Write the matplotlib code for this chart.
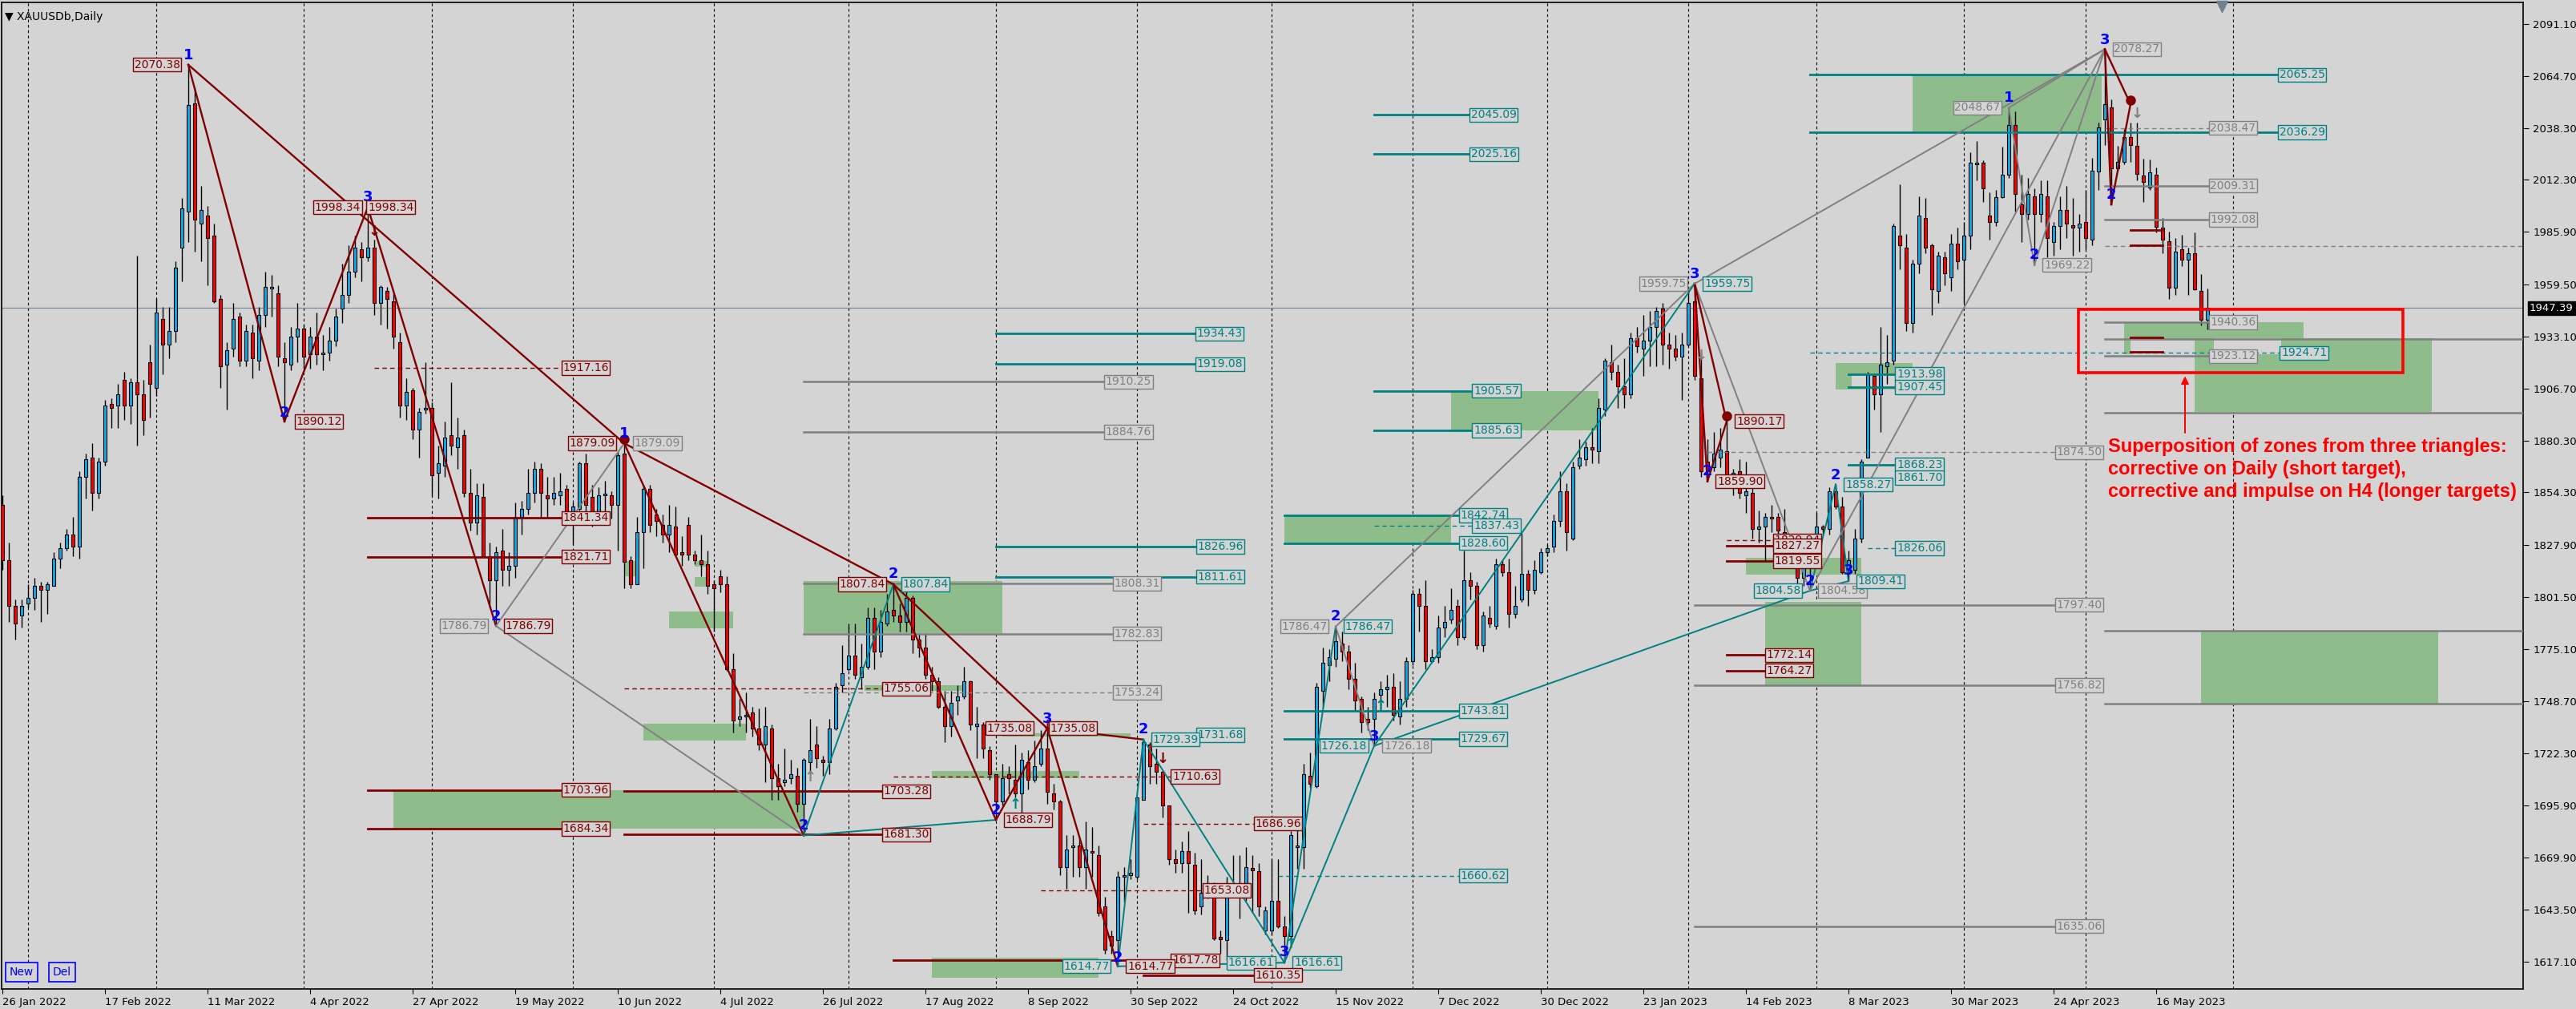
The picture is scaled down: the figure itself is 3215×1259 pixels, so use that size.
import numpy as np
import pandas as pd
import matplotlib
matplotlib.use("Agg")
import matplotlib.pyplot as plt
from matplotlib.patches import Rectangle
import matplotlib.transforms as mtransforms

# ---- bars (daily XAUUSD, 26 Jan 2022 .. 26 May 2023) ----
holidays = ["2022-04-15", "2022-12-26", "2023-04-07"]
dates = pd.bdate_range("2022-01-26", "2023-05-26").drop(pd.to_datetime(holidays))

opens = [
    1848, 1820, 1797, 1792, 1798, 1801, 1807, 1805, 1807, 1821,
    1826, 1833, 1827, 1862, 1872, 1854, 1870, 1899, 1898, 1911,
    1898, 1910, 1904, 1920, 1907, 1942, 1929, 1936, 1978, 1996,
    2051, 1990, 1994, 1984, 1952, 1919, 1927, 1943, 1921, 1935,
    1921, 1944, 1957.5, 1955, 1922, 1919, 1933, 1937, 1924, 1933,
    1924, 1925, 1931, 1947, 1954, 1966, 1977, 1973, 1978, 1950,
    1956, 1951, 1930, 1898, 1906, 1886, 1896, 1897, 1864, 1868,
    1883, 1877, 1883, 1854, 1839, 1852, 1822, 1810, 1825, 1815,
    1817, 1842, 1846, 1854, 1866, 1853, 1851, 1853, 1856, 1841,
    1846, 1869, 1852, 1843, 1853, 1853, 1848, 1874, 1820, 1808,
    1834, 1856, 1843, 1838, 1833, 1837, 1824, 1838, 1823, 1820,
    1818, 1808, 1812, 1808, 1765, 1740, 1741, 1743, 1735, 1727,
    1735, 1710, 1708, 1710, 1711, 1697, 1718, 1727, 1719, 1718,
    1735, 1757, 1765, 1772, 1761, 1766, 1791, 1774, 1788, 1795,
    1792, 1789, 1801, 1780, 1776, 1762, 1759, 1746, 1736, 1749,
    1751, 1759, 1736, 1737, 1724, 1712, 1698, 1712, 1709, 1702,
    1718, 1709, 1717, 1725, 1702, 1698, 1665, 1675, 1676, 1665,
    1673, 1671, 1645, 1630, 1628, 1660, 1661, 1660, 1699, 1727,
    1717, 1713, 1696, 1669, 1667, 1673, 1666, 1645, 1652, 1652,
    1629.7, 1628, 1652, 1655, 1651, 1664.5, 1663, 1633, 1633, 1648,
    1635, 1630, 1675, 1675, 1711, 1706, 1754, 1767, 1770, 1778,
    1774, 1760, 1750, 1740, 1740, 1752, 1755, 1756, 1741, 1750,
    1769, 1803, 1797, 1769, 1771, 1786, 1790, 1797, 1781, 1810,
    1807, 1777, 1791, 1787, 1818, 1814, 1793, 1800, 1813, 1805,
    1814, 1824, 1827, 1840, 1855, 1831, 1868, 1871, 1877, 1875,
    1896, 1920, 1915, 1908, 1904, 1932, 1927, 1931, 1938, 1947,
    1929, 1927, 1923, 1929, 1951, 1912, 1870, 1867, 1872, 1875,
    1861, 1865, 1853, 1854, 1836, 1837, 1842, 1842, 1834, 1826,
    1821, 1811, 1817, 1826, 1837, 1836, 1855, 1847, 1815, 1815,
    1831, 1872, 1913, 1904, 1918, 1921, 1984, 1978, 1940, 1970,
    1993, 1979, 1956, 1973, 1963, 1980, 1972, 1984, 2020, 2021,
    1994, 1991, 2003.5, 2015, 2040, 2000, 1995, 2004, 1995, 2004,
    1981, 1989, 1997, 1989.4, 1988, 1991, 1982, 2016.5, 2042.6, 2049,
    2018, 2021.4, 2034, 2029.5, 2014.3, 2008.4, 2015, 1988, 1981.4, 1957.6,
    1977, 1972, 1975, 1956, 1941.4,
]
highs = [
    1853, 1829, 1800, 1800, 1808, 1811, 1809, 1809, 1824, 1829,
    1836, 1842, 1865, 1874, 1879, 1872, 1901, 1902, 1909, 1915,
    1912, 1974, 1911, 1929, 1952, 1948, 1948, 1971, 2003, 2070.4,
    2059, 2009, 1999, 1990, 1954, 1930, 1950, 1945, 1939, 1939,
    1948, 1966, 1964, 1959, 1930, 1938, 1950, 1939, 1938, 1945,
    1934, 1938, 1947, 1970, 1979, 1984, 1981, 1998.3, 1982, 1959,
    1958, 1955, 1935, 1912, 1907, 1897, 1920, 1900, 1878, 1890,
    1910, 1892, 1886, 1866, 1859, 1859, 1829, 1827, 1836, 1824,
    1849, 1850, 1866, 1870, 1869, 1862, 1862, 1864, 1858, 1849,
    1870, 1874, 1858, 1857, 1860, 1855, 1875, 1879.1, 1822, 1842,
    1858, 1858, 1846, 1843, 1848, 1847, 1832, 1842, 1825, 1833,
    1825, 1810, 1815, 1812, 1773, 1750, 1753, 1746, 1745, 1746,
    1737, 1717, 1725, 1719, 1715, 1720, 1740, 1736, 1721, 1740,
    1758, 1777, 1788, 1788, 1778, 1796, 1796, 1795, 1803, 1807.8,
    1798, 1805, 1802, 1783, 1783, 1766, 1761, 1754, 1754, 1757,
    1766, 1759.4, 1746, 1738, 1726, 1712, 1717, 1716, 1727, 1723,
    1724, 1729, 1734, 1735.1, 1707, 1699, 1681, 1681, 1680, 1688,
    1685, 1676, 1650, 1633, 1663, 1665, 1669, 1700, 1729.4, 1728,
    1725, 1714, 1696, 1674, 1678, 1683, 1672, 1669, 1661, 1657,
    1633, 1660, 1671, 1671, 1675, 1671, 1667, 1645, 1669, 1669,
    1640, 1683, 1689, 1717, 1723, 1758, 1776, 1775, 1786.5, 1784,
    1777, 1768, 1751, 1746, 1753, 1759, 1762, 1763, 1759, 1771,
    1805, 1806, 1810, 1775, 1792, 1797, 1806, 1800, 1825, 1814,
    1809, 1794, 1797, 1821, 1820, 1821, 1807, 1834, 1815, 1820,
    1826, 1828, 1843, 1865, 1859, 1870, 1881, 1880, 1887, 1902,
    1922, 1929, 1919, 1922, 1935, 1938, 1944, 1946, 1948, 1950,
    1935, 1934, 1935, 1958, 1959.75, 1925, 1881, 1885, 1887, 1890.2,
    1866, 1871, 1870, 1857, 1845, 1844, 1848, 1844, 1846, 1832,
    1825, 1826, 1827, 1844, 1838, 1857, 1858.3, 1852, 1825, 1836,
    1871, 1915, 1914, 1938, 1934, 1990, 2010, 1985, 1972, 2004,
    2003, 1980, 1976, 1976, 1985, 1988, 1991, 2026, 2032, 2022,
    2006, 2007, 2029, 2048.7, 2047, 2015, 2013, 2008, 2012, 2012,
    1991, 2004, 2009, 2003, 1995, 2007, 2023.5, 2041, 2078.3, 2053,
    2029.5, 2038, 2041, 2041.3, 2023, 2022.4, 2018.4, 1993, 1986, 1983,
    1984.6, 1978, 1985.7, 1964.7, 1957.3,
]
lows = [
    1815, 1789, 1780, 1786, 1796, 1795, 1789, 1793, 1807, 1816,
    1825, 1822, 1821, 1851, 1845, 1851, 1868, 1887, 1887, 1891,
    1889, 1878, 1883, 1892, 1903, 1914, 1922, 1930, 1961, 1981,
    1976, 1971, 1959, 1950, 1907, 1896, 1923, 1918, 1918, 1912,
    1916, 1938, 1943, 1918, 1890.1, 1916, 1920, 1917, 1917, 1919,
    1916, 1921, 1928, 1940, 1950, 1963, 1961, 1971, 1944, 1939,
    1937, 1927, 1892, 1891, 1881, 1872, 1894, 1853, 1851, 1862,
    1873, 1866, 1852, 1835, 1833, 1822, 1796, 1786.8, 1807, 1807,
    1811, 1833, 1843, 1849, 1842, 1841, 1848, 1848, 1839, 1828,
    1845, 1840, 1837, 1839, 1840, 1841, 1825, 1806, 1806, 1808,
    1816, 1834, 1832, 1829, 1824, 1822, 1817, 1820, 1818, 1812,
    1803, 1784, 1804, 1764, 1733, 1736, 1733, 1731, 1724, 1708,
    1699, 1699, 1706, 1707, 1693, 1680.9, 1712, 1715, 1711, 1712,
    1734, 1753, 1764, 1760, 1755, 1765, 1765, 1771, 1787, 1789,
    1784, 1784, 1773, 1771, 1760, 1754, 1745, 1728, 1731, 1742,
    1750, 1734, 1720, 1720, 1709, 1688.8, 1696, 1702, 1700, 1692,
    1704, 1708, 1716, 1697, 1694, 1661, 1654, 1660, 1660, 1654,
    1660, 1640, 1621, 1621, 1614.8, 1647, 1659, 1659, 1699, 1707,
    1707, 1690, 1666, 1662, 1662, 1642, 1641, 1641, 1649, 1628,
    1621, 1617.8, 1650, 1639, 1648, 1642, 1640, 1631, 1631, 1634,
    1616.6, 1627, 1664, 1664, 1705, 1705, 1746, 1759, 1766, 1769,
    1755, 1744, 1733, 1734, 1726.2, 1744, 1746, 1739, 1737, 1746,
    1767, 1784, 1765, 1768, 1768, 1781, 1788, 1777, 1780, 1800,
    1775, 1774, 1786, 1785, 1812, 1786, 1791, 1799, 1797, 1803,
    1813, 1822, 1824, 1837, 1825, 1830, 1866, 1868, 1869, 1869,
    1893, 1911, 1897, 1897, 1902, 1925, 1913, 1918, 1918, 1919,
    1917, 1921, 1901, 1928, 1911, 1862, 1859.9, 1865, 1867, 1860,
    1853, 1851, 1844, 1831, 1829, 1819, 1834, 1830, 1822, 1818,
    1808, 1807, 1804.6, 1825, 1833, 1833, 1846, 1813, 1809.4, 1813,
    1829, 1872, 1896, 1885, 1909, 1919, 1967, 1936, 1935, 1965,
    1975, 1944, 1950, 1959, 1956, 1967, 1950, 1977, 2012, 2001,
    1982, 1989, 2003, 2013, 1996, 1981, 1992, 1969.2, 1991, 1973,
    1974, 1977, 1983, 1974, 1976, 1977, 1979, 2007, 2030, 2000,
    2017, 2020, 2021.4, 2012, 2001, 2007.3, 1985.7, 1975, 1952, 1954,
    1968.8, 1954, 1956.6, 1938.7, 1936.8,
]
closes = [
    1820, 1797, 1788, 1797, 1801, 1807, 1805, 1808, 1821, 1826,
    1833, 1827, 1862, 1871, 1854, 1870, 1898, 1897, 1904, 1898,
    1910, 1904, 1891, 1909, 1945, 1929, 1936, 1968, 1998, 2050,
    1992, 1997, 1983, 1951, 1918, 1926, 1942, 1921, 1936, 1922,
    1944, 1958, 1958.3, 1923, 1920, 1933, 1937, 1923, 1933, 1924,
    1925, 1931, 1943, 1954, 1966, 1978, 1973, 1978, 1950, 1958,
    1952, 1933, 1898, 1905, 1886, 1895, 1897, 1863, 1869, 1882,
    1878, 1882, 1854, 1839, 1853, 1822, 1810, 1824, 1815, 1817,
    1842, 1846, 1854, 1866, 1854, 1851, 1854, 1855, 1841, 1847,
    1869, 1848, 1843, 1853, 1853.5, 1848, 1873, 1819, 1808, 1834,
    1856, 1838, 1840, 1833, 1838, 1823, 1823, 1823, 1820, 1818,
    1807, 1806, 1808, 1765, 1739, 1741, 1742, 1735, 1727, 1736,
    1710, 1706, 1709, 1712, 1697, 1719, 1724, 1720, 1718, 1735,
    1756, 1763, 1772, 1762, 1766, 1791, 1774, 1789, 1794, 1792,
    1789, 1801, 1780, 1776, 1762, 1759, 1746, 1736, 1748, 1751,
    1759, 1737, 1737.5, 1725, 1712, 1698, 1710, 1710, 1702, 1719,
    1709, 1716, 1725, 1703, 1698, 1665, 1674, 1676, 1665, 1674,
    1672, 1642, 1623, 1625, 1660, 1661, 1662, 1700, 1728, 1716,
    1713, 1696, 1669, 1667, 1673, 1667, 1643, 1652, 1652.5, 1629,
    1628.5, 1655, 1656, 1651, 1665, 1663.4, 1645, 1643, 1648, 1635,
    1630, 1681, 1676, 1712, 1707, 1756, 1768, 1771, 1779, 1774,
    1760, 1749, 1738, 1738, 1750, 1755, 1756, 1742, 1750, 1769,
    1803, 1797, 1769, 1771, 1786, 1789, 1795, 1781, 1810, 1807,
    1777, 1792, 1788, 1818, 1814, 1793, 1797, 1813, 1805, 1815,
    1824, 1826, 1840, 1855, 1834, 1867, 1872, 1877, 1876, 1897,
    1921, 1915, 1908, 1904, 1932, 1928, 1931, 1938, 1946, 1929,
    1927, 1923, 1929, 1950, 1913, 1865, 1865, 1874, 1876, 1863,
    1864, 1854, 1855, 1836, 1837, 1842, 1841, 1835, 1824, 1822,
    1811, 1818, 1826, 1837, 1836, 1855, 1847, 1814, 1820, 1831,
    1870, 1914, 1904, 1919, 1920, 1989, 1979, 1940, 1970, 1994,
    1978, 1957, 1974, 1965, 1980, 1971, 1984, 2021, 2021, 2008,
    1991, 2003.5, 2015, 2040, 2005, 1995, 2005, 1995, 2005, 1983,
    1989, 1997, 1990, 1988, 1990, 1983, 2017, 2038.6, 2050.5, 2018,
    2021.4, 2034, 2030, 2015.4, 2011.3, 2016, 1988.6, 1982, 1957.6, 1976,
    1972, 1975, 1957, 1941.4, 1947.39,
]

price_ticks = [2091.10, 2064.70, 2038.30, 2012.30, 1985.90, 1959.50, 1933.10,
               1906.70, 1880.30, 1854.30, 1827.90, 1801.50, 1775.10, 1748.70,
               1722.30, 1695.90, 1669.90, 1643.50, 1617.10]
last_price = 1947.39

DR, TL, GR = "#800000", "#008080", "#808080"

# green target zones: bar from, bar to, low, high
zones = [
    (61, 125, 1684.34, 1703.96), (104, 114, 1785.5, 1794.0), (100, 116, 1728.9, 1737.4),
    (125, 156, 1783.0, 1809.5), (145, 168, 1709.9, 1713.3), (156, 176, 1730.8, 1732.6),
    (134.5, 150, 1753.8, 1756.9), (145, 171, 1609.0, 1619.0), (97, 98.8, 1812.0, 1819.8),
    (108, 110, 1816.8, 1819.8), (108, 110.3, 1806.7, 1811.5),
    (200, 226, 1828.60, 1842.74), (226, 249, 1885.63, 1905.57), (298, 327.5, 2036.29, 2065.25),
    (286, 298, 1906.3, 1919.8), (272, 290, 1812.9, 1821.3), (275, 290, 1757.0, 1799.0),
    (331, 359, 1924.0, 1940.1), (342, 379, 1894.9, 1932.3), (343, 380, 1747.4, 1784.3),
]
blanks = [(288.5, 295.5, 1907.45, 1913.98), (332, 342, 1923.7, 1931.7), (345, 355.5, 1924.0, 1932.0)]

# triangle sides: bar, price -> bar, price, colour
sides = [
    (29, 2070.38, 97, 1879.09, DR), (29, 2070.38, 44, 1890.12, DR), (44, 1890.12, 57, 1998.34, DR),
    (57, 1998.34, 77, 1786.79, DR), (77, 1786.79, 97, 1879.09, GR), (77, 1786.79, 125, 1680.90, GR),
    (97, 1879.09, 125, 1680.90, DR), (97, 1879.09, 139, 1807.84, DR), (125, 1680.90, 139, 1807.84, TL),
    (125, 1680.90, 155, 1688.79, TL), (139, 1807.84, 155, 1688.79, DR), (139, 1807.84, 163, 1735.08, DR),
    (155, 1688.79, 163, 1735.08, DR), (163, 1735.08, 174, 1614.77, DR), (163, 1735.08, 178, 1729.39, DR),
    (174, 1614.77, 178, 1729.39, TL), (178, 1729.39, 200, 1616.61, TL), (174, 1614.77, 200, 1616.61, TL),
    (200, 1616.61, 208, 1786.47, TL), (200, 1616.61, 214, 1726.18, TL), (208, 1786.47, 214, 1726.18, GR),
    (208, 1786.47, 264, 1959.75, GR), (214, 1726.18, 264, 1959.75, TL), (214, 1726.18, 282, 1804.58, TL),
    (264, 1959.75, 282, 1804.58, GR), (264, 1959.75, 266, 1859.90, DR), (264, 1959.75, 269, 1890.17, DR),
    (266, 1859.90, 269, 1890.17, DR), (282, 1804.58, 286, 1858.27, TL), (286, 1858.27, 288, 1809.41, TL),
    (282, 1804.58, 288, 1809.41, TL), (264, 1959.75, 328, 2078.27, GR), (282, 1804.58, 328, 2078.27, GR),
    (313, 2048.67, 317, 1969.22, GR), (317, 1969.22, 328, 2078.27, GR), (313, 2048.67, 328, 2078.27, GR),
    (328, 2078.27, 329, 1999.80, DR), (329, 1999.80, 332, 2050.50, DR), (328, 2078.27, 332, 2050.50, DR),
]

# wave numbers: bar, price, digit
waves = [
    (29, 2075.2, "1"), (44, 1894.5, "2"), (57, 2003.3, "3"), (77, 1791.8, "2"), (97, 1884.0, "1"),
    (125, 1686.0, "2"), (139, 1813.0, "2"), (155, 1693.8, "2"), (163, 1739.8, "3"), (174, 1619.2, "2"),
    (178, 1734.5, "2"), (200, 1622.0, "3"), (208, 1791.5, "2"), (214, 1730.9, "3"), (264, 1964.5, "3"),
    (266, 1864.9, "2"), (282, 1809.6, "2"), (286, 1863.0, "2"), (288, 1814.8, "3"), (313, 2053.7, "1"),
    (317, 1974.3, "2"), (328, 2082.9, "3"), (329, 2004.6, "2"),
]
markers = [(97, 1881.0), (269, 1893.0), (332, 2052.5)]
arrows = [
    (58, 1986.0, "↓", DR), (142, 1806.8, "↓", DR), (163, 1736.0, "↓", DR), (181, 1719.6, "↓", DR),
    (158, 1696.6, "↑", TL), (201, 1626.2, "↑", TL), (215, 1746.3, "↑", TL), (283, 1820.3, "↑", TL),
    (265, 1923.5, "↓", GR), (333, 2045.7, "↓", GR), (126, 1710.3, "↑", GR),
]

# price levels: price, bar from, bar to, colour, dashed
levels = [
    (1917.16, 58, 87.4, DR, 1), (1841.34, 57, 87.4, DR, 0), (1821.71, 57, 87.4, DR, 0),
    (1703.96, 57, 87.4, DR, 0), (1684.34, 57, 87.4, DR, 0), (1703.28, 97, 137.4, DR, 0),
    (1681.30, 97, 137.4, DR, 0), (1755.06, 97, 137.4, DR, 1), (1910.25, 125, 172.1, GR, 0),
    (1884.76, 125, 172.1, GR, 0), (1808.31, 125, 173.4, GR, 0), (1782.83, 125, 173.4, GR, 0),
    (1753.24, 125, 173.4, GR, 1), (1934.43, 155, 186.3, TL, 0), (1919.08, 155, 186.3, TL, 0),
    (1826.96, 155, 186.3, TL, 0), (1811.61, 155, 186.3, TL, 0), (1710.63, 139, 182.5, DR, 1),
    (1653.08, 162, 187.4, DR, 1), (1686.96, 178, 195.4, DR, 1), (1617.78, 139, 182.5, DR, 0),
    (1610.35, 178, 195.4, DR, 0), (1743.81, 200, 227.4, TL, 0), (1729.67, 200, 227.4, TL, 0),
    (1660.62, 199, 227.4, TL, 1), (1842.74, 200, 227.4, TL, 0), (1828.60, 200, 227.4, TL, 0),
    (1837.43, 214, 229.5, TL, 1), (1905.57, 214, 229.5, TL, 0), (1885.63, 214, 229.5, TL, 0),
    (2045.09, 214, 229.1, TL, 0), (2025.16, 214, 229.1, TL, 0), (1829.94, 269, 276.4, DR, 1),
    (1827.27, 269, 276.4, DR, 0), (1819.55, 269, 276.4, DR, 0), (1913.98, 288, 295.5, TL, 0),
    (1907.45, 288, 295.5, TL, 0), (1868.23, 288, 295.5, TL, 0), (1826.06, 291, 295.5, TL, 1),
    (1772.14, 269, 275.2, DR, 0), (1764.27, 269, 275.2, DR, 0), (1874.50, 266, 320.4, GR, 1),
    (1797.40, 264, 320.4, GR, 0), (1756.82, 264, 320.4, GR, 0), (1635.06, 264, 320.4, GR, 0),
    (2065.25, 282, 355.2, TL, 0), (2036.29, 282, 355.2, TL, 0), (1924.71, 282, 355.5, TL, 1),
    (2038.47, 328, 344.4, GR, 1), (2009.31, 328, 344.4, GR, 0), (1992.08, 328, 344.4, GR, 0),
    (1940.36, 328, 344.4, GR, 0), (1923.12, 328, 344.4, GR, 0), (1931.80, 328, 394, GR, 0),
    (1894.50, 328, 394, GR, 0), (1784.30, 328, 394, GR, 0), (1747.50, 328, 394, GR, 0),
    (1978.80, 328, 394, GR, 1), (1987.00, 332, 337, DR, 0), (1979.30, 332, 337, DR, 0),
    (1932.70, 332, 337, DR, 0), (1925.20, 332, 337, DR, 0),
]

# price tags: bar, price, colour, side of the anchor
tags = [
    (27.7, 2070.38, DR, "right"), (55.9, 1998.34, DR, "right"), (57.0, 1998.34, DR, "left"),
    (45.8, 1890.12, DR, "left"), (87.4, 1917.16, DR, "left"), (95.6, 1879.09, DR, "right"),
    (98.6, 1879.09, GR, "left"), (87.4, 1841.34, DR, "left"), (87.4, 1821.71, DR, "left"),
    (75.6, 1786.79, GR, "right"), (78.4, 1786.79, DR, "left"), (87.4, 1703.96, DR, "left"),
    (87.4, 1684.34, DR, "left"), (137.7, 1807.84, DR, "right"), (140.4, 1807.84, TL, "left"),
    (137.4, 1755.06, DR, "left"), (137.4, 1703.28, DR, "left"), (137.4, 1681.30, DR, "left"),
    (156.4, 1688.79, DR, "left"), (160.7, 1735.08, DR, "right"), (163.4, 1735.08, DR, "left"),
    (173.4, 1808.31, GR, "left"), (173.4, 1782.83, GR, "left"), (173.4, 1753.24, GR, "left"),
    (172.1, 1910.25, GR, "left"), (172.1, 1884.76, GR, "left"), (186.3, 1934.43, TL, "left"),
    (186.3, 1919.08, TL, "left"), (186.4, 1826.96, TL, "left"), (186.4, 1811.61, TL, "left"),
    (186.4, 1731.68, TL, "left"), (179.4, 1729.39, TL, "left"), (182.5, 1710.63, DR, "left"),
    (195.4, 1686.96, DR, "left"), (187.4, 1653.08, DR, "left"), (182.5, 1617.78, DR, "left"),
    (172.7, 1614.77, TL, "right"), (175.5, 1614.77, DR, "left"), (191.2, 1616.61, TL, "left"),
    (201.5, 1616.61, TL, "left"), (195.4, 1610.35, DR, "left"), (206.7, 1786.47, GR, "right"),
    (209.4, 1786.47, TL, "left"), (212.9, 1726.18, TL, "right"), (215.5, 1726.18, GR, "left"),
    (227.4, 1743.81, TL, "left"), (227.4, 1729.67, TL, "left"), (227.4, 1660.62, TL, "left"),
    (227.4, 1842.74, TL, "left"), (227.4, 1828.60, TL, "left"), (229.5, 1837.43, TL, "left"),
    (229.5, 1905.57, TL, "left"), (229.5, 1885.63, TL, "left"), (229.1, 2045.09, TL, "left"),
    (229.1, 2025.16, TL, "left"), (262.7, 1959.75, GR, "right"), (265.5, 1959.75, TL, "left"),
    (270.5, 1890.17, DR, "left"), (267.5, 1859.90, DR, "left"), (276.4, 1829.94, DR, "left"),
    (276.4, 1827.27, DR, "left"), (276.4, 1819.55, DR, "left"), (280.6, 1804.58, TL, "right"),
    (283.5, 1804.58, GR, "left"), (287.5, 1858.27, TL, "left"), (289.4, 1809.41, TL, "left"),
    (295.5, 1913.98, TL, "left"), (295.5, 1907.45, TL, "left"), (295.5, 1868.23, TL, "left"),
    (295.5, 1861.70, TL, "left"), (295.5, 1826.06, TL, "left"), (275.2, 1772.14, DR, "left"),
    (275.2, 1764.27, DR, "left"), (311.7, 2048.67, GR, "right"), (318.5, 1969.22, GR, "left"),
    (329.4, 2078.27, GR, "left"), (355.2, 2065.25, TL, "left"), (355.2, 2036.29, TL, "left"),
    (344.4, 2038.47, GR, "left"), (344.4, 2009.31, GR, "left"), (344.4, 1992.08, GR, "left"),
    (344.4, 1940.36, GR, "left"), (344.4, 1923.12, GR, "left"), (355.5, 1924.71, TL, "left"),
    (320.4, 1874.50, GR, "left"), (320.4, 1797.40, GR, "left"), (320.4, 1756.82, GR, "left"),
    (320.4, 1635.06, GR, "left"),
]

note = ["Superposition of zones from three triangles:",
        "corrective on Daily (short target),",
        "corrective and impulse on H4 (longer targets)"]

# ---- figure ----
BG = "#D4D4D4"
W, H = 3216, 1259
fig = plt.figure(figsize=(W / 100, H / 100), dpi=100, facecolor=BG)
ax = fig.add_axes([2 / W, 25 / H, 3147 / W, 1231 / H], facecolor=BG)
ax.set_xlim(-0.125, 393.25)
ax.set_ylim(1603.33, 2101.9)

O, Hh, Lw, C = map(np.array, (opens, highs, lows, closes))
x = np.arange(len(O))

# month separators (up to the first month after the data)
future = pd.bdate_range("2023-05-29", "2023-06-05")
alld = dates.append(future)
ms = [k for k in range(1, len(alld)) if alld[k].month != alld[k - 1].month]
for k in ms:
    ax.axvline(k, color="black", lw=0.8, ls=(0, (3, 3)), zorder=0.5)

ax.axhline(last_price, color="#778899", lw=0.9, zorder=0.6)

for i0, i1, lo, hi in zones:
    ax.add_patch(Rectangle((i0, lo), i1 - i0, hi - lo, fc="#8FBC8B", ec="none", zorder=1))
for i0, i1, lo, hi in blanks:
    ax.add_patch(Rectangle((i0, lo), i1 - i0, hi - lo, fc=BG, ec="none", zorder=1.1))

# candles
ax.vlines(x, Lw, Hh, color="black", lw=1.0, zorder=3)
up = C >= O
bot = np.minimum(O, C)
hgt = np.maximum(np.abs(C - O), 0.7)
ax.bar(x[up], hgt[up], bottom=bot[up], width=0.62, color="#14AAE8", edgecolor="black", lw=0.8, zorder=4)
ax.bar(x[~up], hgt[~up], bottom=bot[~up], width=0.62, color="#FF0000", edgecolor="black", lw=0.8, zorder=4)

for p, i0, i1, col, dash in levels:
    if dash:
        ax.plot([i0, i1], [p, p], color=col, lw=1.0, ls=(0, (4, 3)), zorder=5)
    else:
        ax.plot([i0, i1], [p, p], color=col, lw=2.0 if col != GR else 1.8, zorder=5)

for i0, p0, i1, p1, col in sides:
    ax.plot([i0, i1], [p0, p1], color=col, lw=1.7 if col == DR else 1.4, zorder=5.5)

for i, p, txt in waves:
    ax.text(i, p, txt, color="#0000FF", fontsize=13, fontweight="bold", ha="center", va="center", zorder=7)
for i, p in markers:
    ax.plot(i, p, "o", ms=8, mfc=DR, mec=DR, zorder=6.5)
for i, p, g, col in arrows:
    ax.text(i, p, g, color=col, fontsize=13, fontweight="bold", ha="center", va="center", zorder=6.8)

for i, p, col, side in tags:
    ax.text(i, p, f"{p:.2f}", color=col, fontsize=10, ha=side, va="center", zorder=8,
            bbox=dict(boxstyle="square,pad=0.12", fc=BG, ec=col, lw=1.0))

# red callout
ax.add_patch(Rectangle((323.9, 1914.7), 50.6, 32.1, fill=False, ec="#FF0000", lw=2.6, zorder=9))
ax.annotate("", xy=(340.5, 1914.2), xytext=(340.5, 1883.3),
            arrowprops=dict(arrowstyle="-|>", color="#FF0000", lw=1.4, mutation_scale=14), zorder=9)
for k, line in enumerate(note):
    ax.text(328.5, 1877.5 - 11.35 * k, line, color="#FF0000", fontsize=17, fontweight="bold",
            family="Liberation Sans", ha="left", va="center", zorder=9)

# axes
for s in ax.spines.values():
    s.set_color("black")
    s.set_linewidth(1.2)
ax.yaxis.tick_right()
ax.set_yticks(price_ticks)
ax.set_yticklabels([f"{v:.2f}" for v in price_ticks], fontsize=9.5)
ax.tick_params(axis="y", direction="out", length=5, pad=4, colors="black")
xt = list(range(0, len(dates), 16))
ax.set_xticks(xt)
ax.set_xticklabels([f"{dates[k].day} {dates[k]:%b %Y}" for k in xt], fontsize=9.5, ha="left")
ax.tick_params(axis="x", direction="out", length=4, pad=3, colors="black")

tr = mtransforms.blended_transform_factory(ax.transAxes, ax.transData)
ax.text(1.0025, last_price, f"{last_price:.2f}", transform=tr, color="white", fontsize=9.5,
        ha="left", va="center", bbox=dict(boxstyle="square,pad=0.15", fc="black", ec="black"), zorder=10)
tr2 = mtransforms.blended_transform_factory(ax.transData, ax.transAxes)
ax.plot([346.2], [0.996], marker="v", ms=10, color="#708090", transform=tr2, clip_on=False, zorder=10)

fig.text(6 / W, 1 - 21 / H, "▼ XAUUSDb,Daily", fontsize=10, color="black", ha="left", va="center")
fig.text(12 / W, 1 - 1213 / H, "New", fontsize=10, color="#0000FF", ha="left", va="center",
         bbox=dict(boxstyle="square,pad=0.35", fc=BG, ec="#0000FF", lw=1.2))
fig.text(66 / W, 1 - 1213 / H, "Del", fontsize=10, color="#0000FF", ha="left", va="center",
         bbox=dict(boxstyle="square,pad=0.35", fc=BG, ec="#0000FF", lw=1.2))

fig.savefig("out.png", dpi=100, facecolor=BG)
